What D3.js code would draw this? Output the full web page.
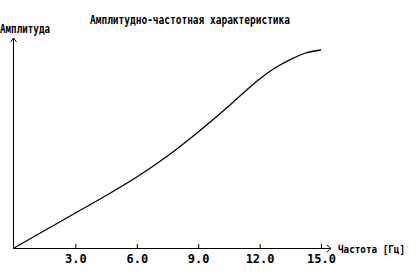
<!DOCTYPE html>
<html>
<head>
<meta charset="utf-8">
<script src="https://cdn.jsdelivr.net/npm/d3@7"></script>
<style>
  body { margin: 0; background: #fff; }
  svg text { font-family: "DejaVu Sans Mono", monospace; font-weight: bold; fill: #000; }
</style>
</head>
<body>
<div id="chart"></div>
<script>
// данные АЧХ
const frequences = [0, 1.5, 3, 4.5, 6, 7.5, 9, 10.5, 12, 12.75, 13.5, 14.25, 15];
const amplitudes = [0, 0.0875, 0.175, 0.2625, 0.355, 0.46, 0.58, 0.71, 0.845, 0.9, 0.942, 0.975, 0.99];
const ticksX = [3, 6, 9, 12, 15];

const titre = "Амплитудно-частотная характеристика";
const labelY = "Амплитуда";
const labelX = "Частота [Гц]";

const width = 420, height = 278;

const svg = d3.select("#chart").append("svg")
    .attr("width", width)
    .attr("height", height);

const echelleX = d3.scaleLinear()
    .domain([0, 15])
    .range([14, 321]);

const echelleY = d3.scaleLinear()
    .domain([0, 1])
    .range([248, 48]);

// axe Y avec fleche
svg.append("line")
    .attr("x1", 13.5).attr("y1", 248)
    .attr("x2", 13.5).attr("y2", 38)
    .attr("stroke", "#000").attr("stroke-width", 1);
svg.append("path")
    .attr("d", "M10.5,42 L13.5,38 L16.5,42")
    .attr("fill", "none").attr("stroke", "#000").attr("stroke-width", 1);

// axe X avec fleche
svg.append("line")
    .attr("x1", 13).attr("y1", 248.5)
    .attr("x2", 331).attr("y2", 248.5)
    .attr("stroke", "#000").attr("stroke-width", 1.2);
svg.append("path")
    .attr("d", "M327,245 L331,248.5 L327,252")
    .attr("fill", "none").attr("stroke", "#000").attr("stroke-width", 1);

const axeX = d3.axisBottom(echelleX)
    .tickValues(ticksX)
    .tickSize(-4)
    .tickPadding(9)
    .tickFormat(d3.format(".1f"));

const gX = svg.append("g")
    .attr("transform", "translate(0,248)")
    .call(axeX);
gX.select(".domain").remove();
gX.selectAll(".tick line").attr("stroke", "#000");
gX.selectAll(".tick text")
    .attr("font-size", 12)
    .attr("font-family", null)
    .attr("dy", "0.5em");

// courbe
const ligne = d3.line()
    .x((d, i) => echelleX(frequences[i]))
    .y(d => echelleY(d))
    .curve(d3.curveMonotoneX);

svg.append("path")
    .datum(amplitudes)
    .attr("d", ligne)
    .attr("fill", "none")
    .attr("stroke", "#000")
    .attr("stroke-width", 1.3);

// textes
svg.append("text")
    .attr("x", 90).attr("y", 24)
    .attr("font-size", 13)
    .attr("textLength", 200)
    .attr("lengthAdjust", "spacingAndGlyphs")
    .text(titre);

svg.append("text")
    .attr("x", 0).attr("y", 33)
    .attr("font-size", 13)
    .attr("textLength", 50)
    .attr("lengthAdjust", "spacingAndGlyphs")
    .text(labelY);

svg.append("text")
    .attr("x", 338).attr("y", 253)
    .attr("font-size", 10.5)
    .attr("textLength", 67)
    .attr("lengthAdjust", "spacingAndGlyphs")
    .text(labelX);
</script>
</body>
</html>
